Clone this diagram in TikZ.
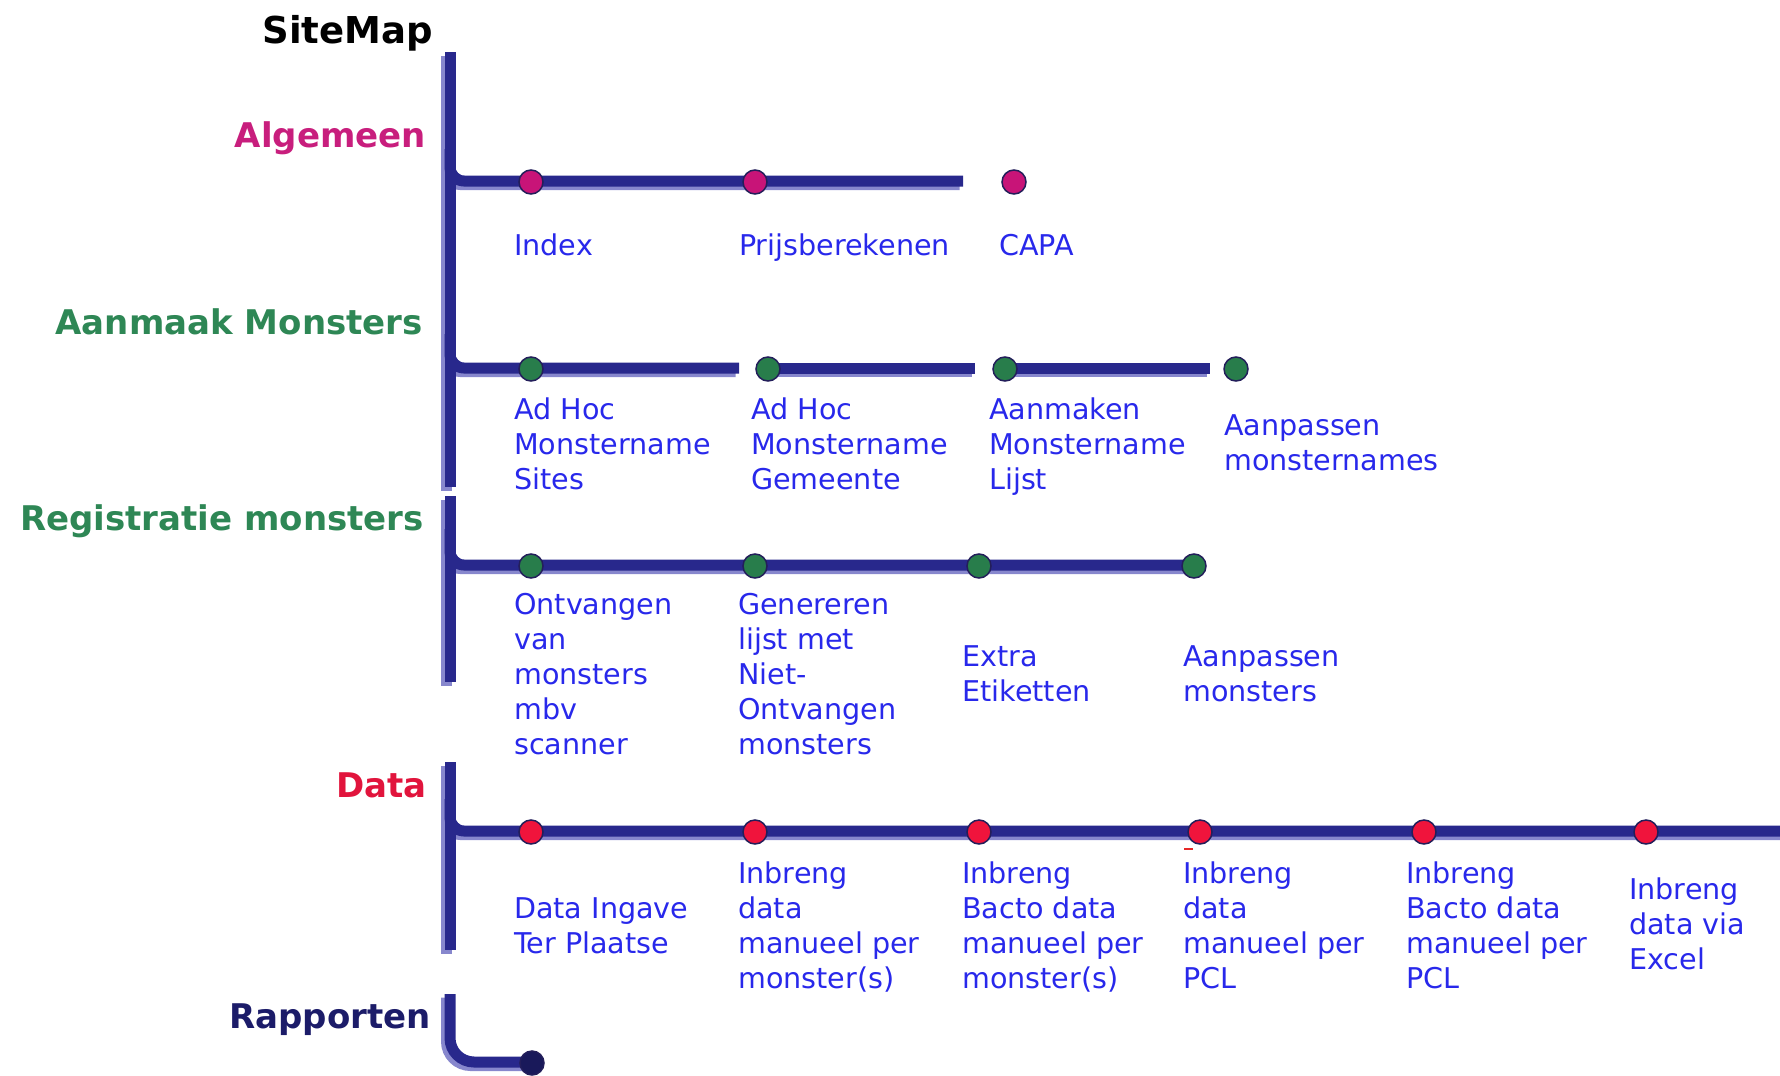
\documentclass[tikz,border=0pt]{standalone}
\usepackage{fontspec}
\setmainfont{DejaVu Sans}
\usetikzlibrary{backgrounds}
\definecolor{HeadMag}{RGB}{200,30,125}
\definecolor{HeadGreen}{RGB}{46,135,85}
\definecolor{HeadRed}{RGB}{225,20,60}
\definecolor{HeadNavy}{RGB}{28,28,105}
\definecolor{LabelBlue}{RGB}{40,40,235}
\definecolor{BarDark}{RGB}{40,40,140}
\definecolor{BarLight}{RGB}{135,135,205}
\definecolor{DotEdge}{RGB}{35,30,90}
\definecolor{DotMag}{RGB}{200,20,120}
\definecolor{DotGreen}{RGB}{40,125,75}
\definecolor{DotRed}{RGB}{240,20,60}
\definecolor{DotNavy}{RGB}{25,25,90}
\definecolor{DashRed}{RGB}{230,40,40}
\newcommand{\barpaths}{%
  \draw (t1a) -- (t1b);
  \draw (t2a) -- (t2b);
  \draw (t3a) -- (t3b);
  \draw[rounded corners=14pt] (ab) |- (a1.center) -- (a2.center) -- (aE);
  \draw[rounded corners=14pt] (mb) |- (m1.center) -- (mE1);
  \draw (m2.center) -- (mE2);
  \draw (m3.center) -- (mE3);
  \draw[rounded corners=14pt] (rb) |- (r1.center) -- (r4.center);
  \draw[rounded corners=14pt] (db) |- (d1.center) -- (dE);
  \draw[rounded corners=24pt] (t4a) |- (p1.center);
}
\begin{document}
\begin{tikzpicture}[x=1pt,y=-1pt,
  lbl/.style={anchor=base west, inner sep=0pt, align=left, text=LabelBlue,
    font=\fontsize{28.6}{35}\selectfont},
  head/.style={anchor=base east, inner sep=0pt,
    font=\fontsize{34}{40}\selectfont\bfseries},
  dot/.style={circle, inner sep=0pt, minimum size=24pt, draw=DotEdge, line width=1.5pt},
  magdot/.style={dot, fill=DotMag},
  greendot/.style={dot, fill=DotGreen},
  reddot/.style={dot, fill=DotRed},
  navydot/.style={dot, fill=DotNavy}]
\useasboundingbox (0,0) rectangle (1780,1076);

% trunk coordinates
\coordinate (t1a) at (449,53);
\coordinate (t1b) at (449,488);
\coordinate (t2a) at (449,497);
\coordinate (t2b) at (449,683);
\coordinate (t3a) at (449,763);
\coordinate (t3b) at (449,951);
\coordinate (t4a) at (449,995);
\coordinate (ab) at (449,150);
\coordinate (mb) at (449,335);
\coordinate (rb) at (449,530);
\coordinate (db) at (449,800);
\coordinate (aE) at (962,182);
\coordinate (mE1) at (738,369);
\coordinate (mE2) at (974,369);
\coordinate (mE3) at (1209,369);
\coordinate (dE) at (1800,832);

% headings
\node[head, font=\fontsize{37}{44}\selectfont\bfseries, text=black] (hsite) at (433,43) {SiteMap};
\node[head, text=HeadMag] (halg) at (426,147) {Algemeen};
\node[head, text=HeadGreen] (haan) at (423,334) {Aanmaak Monsters};
\node[head, text=HeadGreen] (hreg) at (424,530) {Registratie monsters};
\node[head, text=HeadRed] (hdata) at (427,797) {Data};
\node[head, text=HeadNavy] (hrap) at (431,1028) {Rapporten};

% dots
\node[magdot] (a1) at (531,182) {};
\node[magdot] (a2) at (755,182) {};
\node[magdot] (a3) at (1014,182) {};
\node[greendot] (m1) at (531,369) {};
\node[greendot] (m2) at (768,369) {};
\node[greendot] (m3) at (1005,369) {};
\node[greendot] (m4) at (1236,369) {};
\node[greendot] (r1) at (531,566) {};
\node[greendot] (r2) at (755,566) {};
\node[greendot] (r3) at (979,566) {};
\node[greendot] (r4) at (1194,566) {};
\node[reddot] (d1) at (531,832) {};
\node[reddot] (d2) at (755,832) {};
\node[reddot] (d3) at (979,832) {};
\node[reddot] (d4) at (1200,832) {};
\node[reddot] (d5) at (1424,832) {};
\node[reddot] (d6) at (1646,832) {};
\node[navydot] (p1) at (532,1063) {};

% bars
\begin{scope}[on background layer]
  \begin{scope}[transform canvas={shift={(-2.5,2.5)}}, color=BarLight, line width=11pt]
    \barpaths
  \end{scope}
  \begin{scope}[transform canvas={shift={(1,-1)}}, color=BarDark, line width=11pt]
    \barpaths
  \end{scope}
\end{scope}

% labels (anchor at baseline of last line)
\node[lbl] (la1) at (514,255) {Index};
\node[lbl] (la2) at (739,255) {Prijsberekenen};
\node[lbl] (la3) at (999,255) {CAPA};

\node[lbl] (lm1) at (514,489) {Ad Hoc\\Monstername\\Sites};
\node[lbl] (lm2) at (751,489) {Ad Hoc\\Monstername\\Gemeente};
\node[lbl] (lm3) at (989,489) {Aanmaken\\Monstername\\Lijst};
\node[lbl] (lm4) at (1224,470) {Aanpassen\\monsternames};

\node[lbl] (lr1) at (514,754) {Ontvangen\\van\\monsters\\mbv\\scanner};
\node[lbl] (lr2) at (738,754) {Genereren\\lijst met\\Niet-\\Ontvangen\\monsters};
\node[lbl] (lr3) at (962,701) {Extra\\Etiketten};
\node[lbl] (lr4) at (1183,701) {Aanpassen\\monsters};

\node[lbl] (ld1) at (514,953) {Data Ingave\\Ter Plaatse};
\node[lbl] (ld2) at (738,988) {Inbreng\\data\\manueel per\\monster(s)};
\node[lbl] (ld3) at (962,988) {Inbreng\\Bacto data\\manueel per\\monster(s)};
\node[lbl] (ld4) at (1183,988) {Inbreng\\data\\manueel per\\PCL};
\node[lbl] (ld5) at (1406,988) {Inbreng\\Bacto data\\manueel per\\PCL};
\node[lbl] (ld6) at (1629,969) {Inbreng\\data via\\Excel};

% small red mark under the fourth data dot
\draw[DashRed, line width=2pt] (1184,849) -- (1193,849);
\end{tikzpicture}
\end{document}
